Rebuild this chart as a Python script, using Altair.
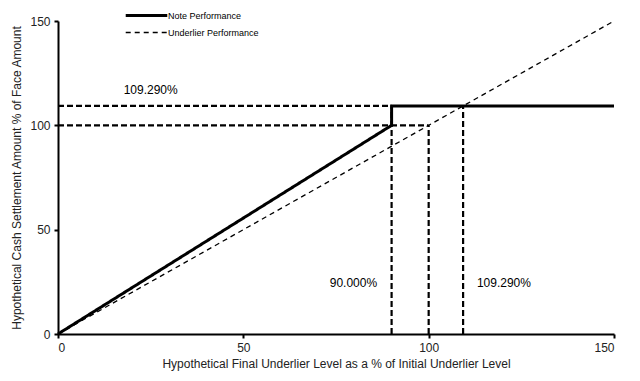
import altair as alt
import pandas as pd

series = ["Note Performance", "Underlier Performance"]

note_x = [0, 90, 90, 150]
note_y = [0, 100, 109.29, 109.29]
under_x = [0, 150]
under_y = [0, 150]

guide_x = [0, 0, 90, 100, 109.29]
guide_x2 = [90, 100, 90, 100, 109.29]
guide_y = [109.29, 100, 0, 0, 0]
guide_y2 = [109.29, 100, 109.29, 100, 109.29]

label_text = ["109.290%", "90.000%", "109.290%"]
label_x = [25, 79.7, 120.3]
label_y = [117, 24.4, 24.4]

ticks = [0, 50, 100, 150]

rows = []
for i, (x, y) in enumerate(zip(note_x, note_y)):
    rows.append({"series": series[0], "i": i, "x": x, "y": y})
for i, (x, y) in enumerate(zip(under_x, under_y)):
    rows.append({"series": series[1], "i": i, "x": x, "y": y})
lines_df = pd.DataFrame(rows)
guides_df = pd.DataFrame({"x": guide_x, "x2": guide_x2, "y": guide_y, "y2": guide_y2})
labels_df = pd.DataFrame({"t": label_text, "x": label_x, "y": label_y})

FONT = "Liberation Sans"
xs = alt.Scale(domain=[0, 150], nice=False)
ys = alt.Scale(domain=[0, 150], nice=False)

xax = alt.Axis(values=ticks, title="Hypothetical Final Underlier Level as a % of Initial Underlier Level")
yax = alt.Axis(values=ticks, title="Hypothetical Cash Settlement Amount % of Face Amount")

legend = alt.Legend(
    title=None, orient="none", legendX=84, legendY=-10,
    symbolType="M-8,0H8", symbolSize=27, labelOffset=17,
    labelFontSize=9, labelFont=FONT, labelColor="#000", rowPadding=6,
    symbolStrokeColor="black",
)

guides = alt.Chart(guides_df).mark_rule(color="black", strokeWidth=2.2, strokeDash=[6, 3]).encode(
    x=alt.X("x:Q", scale=xs, axis=xax),
    x2="x2:Q",
    y=alt.Y("y:Q", scale=ys, axis=yax),
    y2="y2:Q",
)

lines = alt.Chart(lines_df).mark_line(color="black").encode(
    x=alt.X("x:Q", scale=xs, axis=xax),
    y=alt.Y("y:Q", scale=ys, axis=yax),
    strokeDash=alt.StrokeDash("series:N", scale=alt.Scale(domain=series, range=[[1, 0], [5, 4]]), legend=legend),
    strokeWidth=alt.StrokeWidth("series:N", scale=alt.Scale(domain=series, range=[3, 1.3]), legend=legend),
    order="i:Q",
)

labels = alt.Chart(labels_df).mark_text(font=FONT, fontSize=12, color="#000").encode(
    x=alt.X("x:Q", scale=xs),
    y=alt.Y("y:Q", scale=ys),
    text="t:N",
)

chart = alt.layer(guides, lines, labels).properties(
    width=556, height=313,
    autosize=alt.AutoSizeParams(type="none"),
    padding={"left": 50, "top": 13, "right": 18, "bottom": 39},
).configure_view(stroke=None).configure_axis(
    grid=False, domainColor="black", domainWidth=2, tickColor="black", tickWidth=2, tickSize=4,
    labelFont=FONT, labelFontSize=12, labelColor="#222", labelPadding=4,
    titleFont=FONT, titleFontSize=12, titleFontWeight="normal", titleColor="#222",
).configure_axisX(titlePadding=5).configure_axisY(titlePadding=6)

chart.save("out.html", embed_options={"renderer": "svg", "actions": False})
